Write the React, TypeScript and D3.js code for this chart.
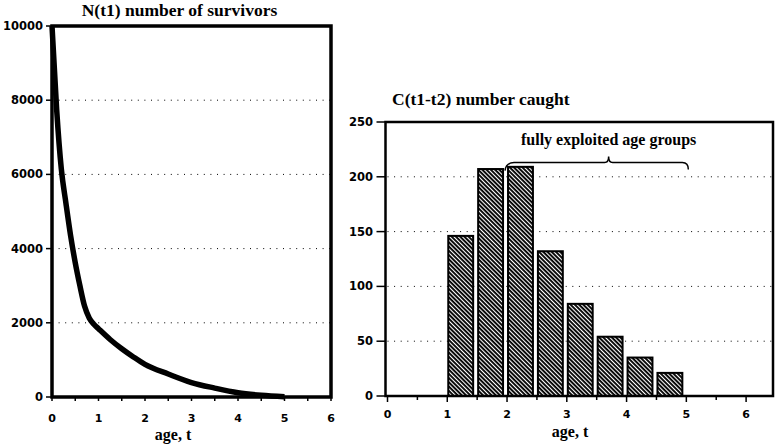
import React from "react";
import * as d3 from "d3";

// ---- Data ----
const survivorAges = [0, 0.1, 0.2, 0.3, 0.4, 0.5, 0.6, 0.7, 0.8, 0.9, 1.0, 1.25, 1.5, 1.75, 2, 2.5, 3, 3.5, 4, 4.5, 5];
const survivorCounts = [10000, 7750, 6150, 5220, 4350, 3620, 3000, 2450, 2130, 1960, 1840, 1550, 1300, 1080, 880, 620, 390, 240, 115, 45, 5];

const catchStarts = [1, 1.5, 2, 2.5, 3, 3.5, 4, 4.5];
const catchValues = [147, 208, 210, 133, 85, 55, 36, 22];

const leftYTicks = [0, 2000, 4000, 6000, 8000, 10000];
const rightYTicks = [0, 50, 100, 150, 200, 250];
const xTickLabels = [0, 1, 2, 3, 4, 5, 6];
const xMinorTicks = [0, 0.5, 1, 1.5, 2, 2.5, 3, 3.5, 4, 4.5, 5, 5.5, 6];

const leftTitle = "N(t1) number of survivors";
const rightTitle = "C(t1-t2) number caught";
const xTitle = "age, t";
const braceLabel = "fully exploited age groups";
const braceFrom = 2.05;
const braceTo = 5.0;
const bracePeak = 3.7;
const braceLevel = 213;
const barWidthYears = 0.45;

const serif = "'Liberation Serif', 'DejaVu Serif', serif";
const sans = "'DejaVu Sans', sans-serif";

export default function App() {
  const W = 779, H = 445;

  // Left chart scales
  const xL = d3.scaleLinear().domain([0, 6]).range([52, 331]);
  const yL = d3.scaleLinear().domain([0, 10000]).range([397, 26]);
  // Right chart scales
  const xR = d3.scaleLinear().domain([0, 6.45]).range([387.5, 773]);
  const yR = d3.scaleLinear().domain([0, 250]).range([396, 122]);

  const line = d3
    .line<number>()
    .x((_, i) => xL(survivorAges[i]))
    .y((d) => yL(d))
    .curve(d3.curveMonotoneX);

  const bx0 = xR(braceFrom), bx1 = xR(braceTo), bxp = xR(bracePeak);
  const by = yR(braceLevel);
  const bracePath = `M${bx0 - 5},${by + 8} Q${bx0 - 4},${by} ${bx0 + 4},${by} L${bxp - 4},${by} Q${bxp},${by} ${bxp},${by - 6} Q${bxp},${by} ${bxp + 4},${by} L${bx1 - 4},${by} Q${bx1 + 2},${by} ${bx1 + 2},${by + 7}`;

  const dots = "1 5.6";

  return (
    <svg width={W} height={H} style={{ position: "absolute", left: 0, top: 0, background: "#fff" }}>
      <defs>
        <pattern id="hatch" patternUnits="userSpaceOnUse" width="4" height="3" patternTransform="rotate(45)">
          <rect width="4" height="3" fill="#fff" />
          <rect width="4" height="1.9" y="0" fill="#000" />
        </pattern>
      </defs>

      {/* ===== LEFT CHART ===== */}
      <text x={(xL(0) + xL(6)) / 2 - 12} y={16} textAnchor="middle" fontFamily={serif} fontWeight="bold" fontSize={17.5}>
        {leftTitle}
      </text>
      {leftYTicks.filter((v) => v > 0 && v < 10000).map((v) => (
        <line key={"lg" + v} x1={xL(0)} x2={xL(6)} y1={yL(v)} y2={yL(v)} stroke="#000" strokeWidth={1} strokeDasharray={dots} />
      ))}
      {leftYTicks.map((v) => (
        <g key={"ly" + v}>
          <line x1={xL(0) - 6} x2={xL(0)} y1={yL(v)} y2={yL(v)} stroke="#000" strokeWidth={1.5} />
          <text x={43} y={yL(v) + 4} textAnchor="end" fontFamily={sans} fontWeight="bold" fontSize={11.5}>
            {v}
          </text>
        </g>
      ))}
      {xMinorTicks.map((v) => (
        <line key={"lx" + v} x1={xL(v)} x2={xL(v)} y1={yL(0)} y2={yL(0) + 4} stroke="#000" strokeWidth={1.5} />
      ))}
      {xTickLabels.map((v) => (
        <text key={"lxl" + v} x={xL(v)} y={422} textAnchor="middle" fontFamily={sans} fontWeight="bold" fontSize={11}>
          {v}
        </text>
      ))}
      <text x={173} y={439.5} textAnchor="middle" fontFamily={serif} fontWeight="bold" fontSize={16}>
        {xTitle}
      </text>
      <path d={line(survivorCounts) || ""} fill="none" stroke="#000" strokeWidth={5.5} strokeLinejoin="round" />
      <rect x={xL(0)} y={yL(10000)} width={xL(6) - xL(0)} height={yL(0) - yL(10000)} fill="none" stroke="#000" strokeWidth={3.5} />

      {/* ===== RIGHT CHART ===== */}
      <text x={392} y={105} fontFamily={serif} fontWeight="bold" fontSize={17.5}>
        {rightTitle}
      </text>
      {rightYTicks.filter((v) => v > 0 && v < 250).map((v) => (
        <line key={"rg" + v} x1={xR(0)} x2={xR(6.45)} y1={yR(v)} y2={yR(v)} stroke="#000" strokeWidth={1} strokeDasharray={dots} />
      ))}
      {rightYTicks.map((v) => (
        <g key={"ry" + v}>
          <line x1={xR(0) - 11} x2={xR(0) - 2} y1={yR(v)} y2={yR(v)} stroke="#000" strokeWidth={1.5} />
          <text x={373} y={yR(v) + 4} textAnchor="end" fontFamily={sans} fontWeight="bold" fontSize={11.5}>
            {v}
          </text>
        </g>
      ))}
      {xMinorTicks.map((v) => (
        <line key={"rx" + v} x1={xR(v)} x2={xR(v)} y1={yR(0)} y2={yR(0) + (Number.isInteger(v) ? 6 : 4)} stroke="#000" strokeWidth={1.5} />
      ))}
      {xTickLabels.map((v) => (
        <text key={"rxl" + v} x={xR(v)} y={418} textAnchor="middle" fontFamily={sans} fontWeight="bold" fontSize={11}>
          {v}
        </text>
      ))}
      <text x={570} y={437} textAnchor="middle" fontFamily={serif} fontWeight="bold" fontSize={16}>
        {xTitle}
      </text>
      {catchValues.map((v, i) => (
        <rect
          key={"bar" + i}
          x={xR(catchStarts[i]) + 1}
          y={yR(v) + 1}
          width={xR(catchStarts[i] + barWidthYears) - xR(catchStarts[i]) - 2}
          height={yR(0) - yR(v) - 1}
          fill="url(#hatch)"
          stroke="#000"
          strokeWidth={2}
        />
      ))}
      <path d={bracePath} fill="none" stroke="#000" strokeWidth={1.5} />
      <text x={xR(bracePeak)} y={yR(229)} textAnchor="middle" fontFamily={serif} fontWeight="bold" fontSize={16}>
        {braceLabel}
      </text>
      <rect x={xR(0) - 2} y={yR(250)} width={xR(6.45) - xR(0) + 2} height={yR(0) - yR(250)} fill="none" stroke="#000" strokeWidth={2.5} />
    </svg>
  );
}
